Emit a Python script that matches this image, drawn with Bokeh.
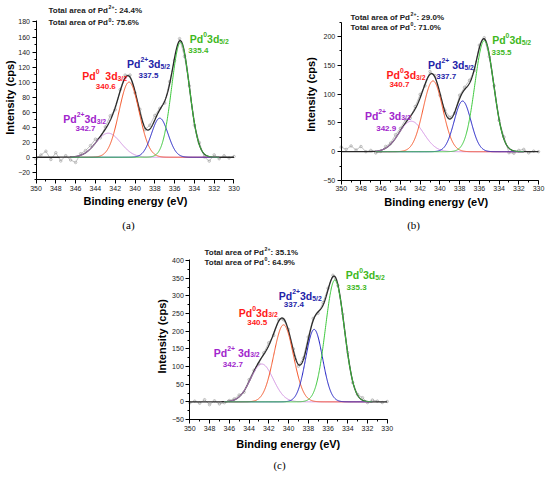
import math
import numpy as np
from bokeh.plotting import figure
from bokeh.models import Range1d, SingleIntervalTicker, Label, Spacer
from bokeh.layouts import column, row
from bokeh.embed import file_html
from bokeh.resources import INLINE

# ---------------- data ----------------
# peak order: Pd0 3d5/2 (green), Pd2+ 3d5/2 (blue), Pd0 3d3/2 (red), Pd2+ 3d3/2 (purple)
peak_names = ["Pd0 3d5/2", "Pd2+ 3d5/2", "Pd0 3d3/2", "Pd2+ 3d3/2"]

a_centers = [335.4, 337.5, 340.6, 342.7]
a_heights = [153, 52, 100, 32]
a_fwhm = [2.12, 1.95, 2.40, 2.95]
a_pd2 = "24.4%"
a_pd0 = "75.6%"
a_yaxis = (-30, 182)

b_centers = [335.5, 337.7, 340.7, 342.9]
b_heights = [193, 88, 123, 53]
b_fwhm = [2.25, 2.0, 2.35, 2.95]
b_pd2 = "29.0%"
b_pd0 = "71.0%"
b_yaxis = (-50, 225)

c_centers = [335.3, 337.4, 340.5, 342.7]
c_heights = [345, 205, 218, 107]
c_fwhm = [2.25, 2.0, 2.35, 2.7]
c_pd2 = "35.1%"
c_pd0 = "64.9%"
c_yaxis = (-50, 402)

x_axis = (330, 350)

# measured binding energies of the raw spectrum (0.5 eV steps, 350 -> 330)
raw_energy = [350.0, 349.5, 349.0, 348.5, 348.0, 347.5, 347.0, 346.5, 346.0, 345.5,
              345.0, 344.5, 344.0, 343.5, 343.0, 342.5, 342.0, 341.5, 341.0, 340.5,
              340.0, 339.5, 339.0, 338.5, 338.0, 337.5, 337.0, 336.5, 336.0, 335.5,
              335.0, 334.5, 334.0, 333.5, 333.0, 332.5, 332.0, 331.5, 331.0, 330.5, 330.0]
# raw intensity minus fitted envelope
a_resid = [-2, 3, 8, -3, 6, -5, 2, -4, -8, 2, 3, 4, 5, -2, 3, 6, -3, 2, 4, 3,
           -2, 4, -3, 5, 6, 2, -3, 3, -4, 3, -5, 2, -3, 3, -4, -6, 3, -2, 2, -1, 1]
b_resid = [8, 4, 10, 3, 9, 0, 2, -3, -2, 3, 2, 6, 4, 6, -3, 4, 6, -3, 5, 3,
           -4, 2, 3, -2, 6, 4, 5, -3, 5, 2, -4, 3, -2, 4, -8, -4, 2, 4, -2, 1, 0]
c_resid = [-3, 2, -4, 6, -8, 3, -6, -3, 2, 3, 5, -4, 6, 3, -5, 4, 8, -6, 5, -3,
           4, 6, -5, 4, 8, 6, -4, 7, 5, 4, -3, 5, 3, -4, 2, 7, -3, 5, 2, -2, 1]

comp_colors = ["#3cc83c", "#1f1fc4", "#f5562a", "#d28ee2"]
label_colors = ["#3fb81e", "#2424a8", "#ff1a1a", "#a126cc"]

# Arial/Liberation Sans Bold advance widths (1/1000 em)
BOLD_W = {' ': 278, '+': 584, '/': 278, '%': 889, ':': 333, '.': 278, '(': 333, ')': 333,
          'P': 667, 'd': 611, 'T': 611, 'o': 611, 't': 333, 'a': 556, 'l': 278,
          'r': 389, 'e': 556, 'f': 333}
for dch in "0123456789":
    BOLD_W[dch] = 556


def text_w(s, size):
    return sum(BOLD_W.get(ch, 556) for ch in s) / 1000.0 * size


def rich(p, x, y, segs, size, color, align="left"):
    sizes = [size if k == "n" else size * 0.65 for _, k in segs]
    total = sum(text_w(t, s) for (t, _), s in zip(segs, sizes))
    off = 0.0 if align == "left" else -total / 2.0
    for (t, k), s in zip(segs, sizes):
        lead = len(t) - len(t.lstrip(" "))
        off += text_w(" " * lead, s)
        t2 = t.lstrip(" ")
        dy = {"n": 0.0, "sup": 0.42 * size, "sub": -0.2 * size}[k] - 0.35 * size
        p.add_layout(Label(x=x, y=y, x_offset=off, y_offset=dy, text=t2,
                           text_font="Liberation Sans", text_font_style="bold",
                           text_font_size=f"{s:.1f}px", text_color=color,
                           text_baseline="alphabetic", text_align="left"))
        off += text_w(t2, s)


def gauss(x, c, h, fw):
    sig = fw / 2.3548
    return h * np.exp(-(x - c) ** 2 / (2 * sig ** 2))


def make_panel(width, height, xr, yr, yaxis, ystep, centers, heights, fwhm, resid,
               pd2, pd0, title_xy, labels, numbers, caption, cap_xy, xlab_xy, ylab_xy):
    p = figure(width=width, height=height, x_range=Range1d(*xr), y_range=Range1d(*yr),
               output_backend="svg", toolbar_location=None, title=None,
               min_border_left=0, min_border_right=0, min_border_top=0, min_border_bottom=0)
    p.grid.visible = False
    p.outline_line_color = None
    p.background_fill_color = "white"
    p.border_fill_color = "white"
    p.xaxis.ticker = SingleIntervalTicker(interval=2, num_minor_ticks=2)
    p.yaxis.ticker = SingleIntervalTicker(interval=ystep, num_minor_ticks=2)
    p.xaxis.bounds = x_axis
    p.yaxis.bounds = yaxis
    p.xaxis.fixed_location = yaxis[0]
    p.yaxis.fixed_location = x_axis[1]
    for ax in (p.xaxis[0], p.yaxis[0]):
        ax.axis_line_color = "black"
        ax.axis_line_width = 1
        ax.major_tick_line_color = "black"
        ax.major_tick_in = 0
        ax.major_tick_out = 4
        ax.minor_tick_line_color = "black"
        ax.minor_tick_in = 0
        ax.minor_tick_out = 2
        ax.major_label_text_font = "Liberation Sans"
        ax.major_label_text_font_size = "7px"
        ax.major_label_text_color = "#222222"
        ax.major_label_standoff = 2

    # axis titles and caption
    p.add_layout(Label(x=xlab_xy[0], y=xlab_xy[1], text="Binding energy (eV)",
                       text_font="Liberation Sans", text_font_style="bold",
                       text_font_size="11px", text_color="black",
                       text_align="center", text_baseline="middle"))
    p.add_layout(Label(x=ylab_xy[0], y=ylab_xy[1], text="Intensity (cps)", angle=math.pi / 2,
                       text_font="Liberation Sans", text_font_style="bold",
                       text_font_size="11px", text_color="black",
                       text_align="center", text_baseline="middle"))
    p.add_layout(Label(x=cap_xy[0], y=cap_xy[1], text=caption, text_font="Liberation Serif",
                       text_font_size="11px", text_color="black",
                       text_align="center", text_baseline="middle"))

    xs = np.linspace(350, 330, 801)
    env = np.zeros_like(xs)
    for c, h, fw in zip(centers, heights, fwhm):
        env += gauss(xs, c, h, fw)
    rx = np.array(raw_energy)
    renv = np.zeros_like(rx)
    for c, h, fw in zip(centers, heights, fwhm):
        renv += gauss(rx, c, h, fw)
    ry = renv + np.array(resid)
    p.line(rx, ry, line_color="#a8a8a8", line_width=0.7)
    p.scatter(rx, ry, size=2.5, marker="circle", line_color="#999999", fill_color=None,
              line_width=0.6)
    p.line(xs, env, line_color="#2a2a2a", line_width=1.3)
    xc = xs[(xs <= 346.5) & (xs >= 331.5)]
    for idx in [3, 2, 1, 0]:
        p.line(xc, gauss(xc, centers[idx], heights[idx], fwhm[idx]),
               line_color=comp_colors[idx], line_width=1)

    # summary texts
    tx, ty1, ty2 = title_xy
    rich(p, tx, ty1, [("Total area of Pd", "n"), ("2+", "sup"), (": " + pd2, "n")], 8, "#222222")
    rich(p, tx, ty2, [("Total area of Pd", "n"), ("0", "sup"), (": " + pd0, "n")], 8, "#222222")

    # peak labels
    for idx, (lx, ly, segs) in enumerate(labels):
        rich(p, lx, ly, segs, 10.5, label_colors[idx])
    for idx, (nx, ny) in enumerate(numbers):
        p.add_layout(Label(x=nx, y=ny, text=f"{centers[idx]:.1f}", text_font="Liberation Sans",
                           text_font_style="bold", text_font_size="8px",
                           text_color=label_colors[idx], text_align="center",
                           text_baseline="middle"))
    return p


pa = make_panel(275, 233, (353.586, 325.808), (-101.5, 208.6), a_yaxis, 20,
                a_centers, a_heights, a_fwhm, a_resid, a_pd2, a_pd0, (348.74, 199.5, 182.4),
                [(334.46, 162, [("Pd", "n"), ("0", "sup"), ("3d", "n"), ("5/2", "sub")]),
                 (340.8, 129, [("Pd", "n"), ("2+", "sup"), ("3d", "n"), ("5/2", "sub")]),
                 (345.33, 113, [("Pd", "n"), ("0", "sup"), ("  3d", "n"), ("3/2", "sub")]),
                 (347.25, 55.7, [("Pd", "n"), ("2+", "sup"), ("3d", "n"), ("3/2", "sub")])],
                [(333.6, 142), (338.64, 108.5), (342.95, 94), (345.0, 38)],
                "(a)", (340.66, -90.8), (339.95, -58.9), (352.58, 79.5))

pb = make_panel(275, 233, (356.66, 328.79), (-142.1, 262.7), b_yaxis, 50,
                b_centers, b_heights, b_fwhm, b_resid, b_pd2, b_pd0, (349.06, 238.4, 221),
                [(334.7, 200, [("Pd", "n"), ("0", "sup"), ("3d", "n"), ("5/2", "sub")]),
                 (341.2, 156.7, [("Pd", "n"), ("2+", "sup"), (" 3d", "n"), ("5/2", "sub")]),
                 (345.4, 139, [("Pd", "n"), ("0", "sup"), ("3d", "n"), ("3/2", "sub")]),
                 (347.6, 68.6, [("Pd", "n"), ("2+", "sup"), (" 3d", "n"), ("3/2", "sub")])],
                [(333.75, 171.8), (339.36, 130.6), (344.1, 116), (345.44, 40.8)],
                "(b)", (342.67, -128.2), (340.37, -87.7), (353.11, 99.4))

pc = make_panel(290, 245, (356.008, 326.626), (-217.0, 476.5), c_yaxis, 50,
                c_centers, c_heights, c_fwhm, c_resid, c_pd2, c_pd0, (348.51, 431, 403),
                [(334.2, 368.8, [("Pd", "n"), ("0", "sup"), ("3d", "n"), ("5/2", "sub")]),
                 (340.98, 310, [("Pd", "n"), ("2+", "sup"), ("3d", "n"), ("5/2", "sub")]),
                 (345.04, 263, [("Pd", "n"), ("0", "sup"), ("3d", "n"), ("3/2", "sub")]),
                 (347.57, 150, [("Pd", "n"), ("2+", "sup"), (" 3d", "n"), ("3/2", "sub")])],
                [(333.1, 322.6), (339.46, 274.5), (343.17, 225), (345.64, 104.7)],
                "(c)", (340.91, -180.2), (340.02, -118.8), (352.8, 185.5))

layout = column(row(pa, pb), row(Spacer(width=130, height=245), pc))

with open("out.html", "w") as f:
    f.write(file_html(layout, INLINE))
